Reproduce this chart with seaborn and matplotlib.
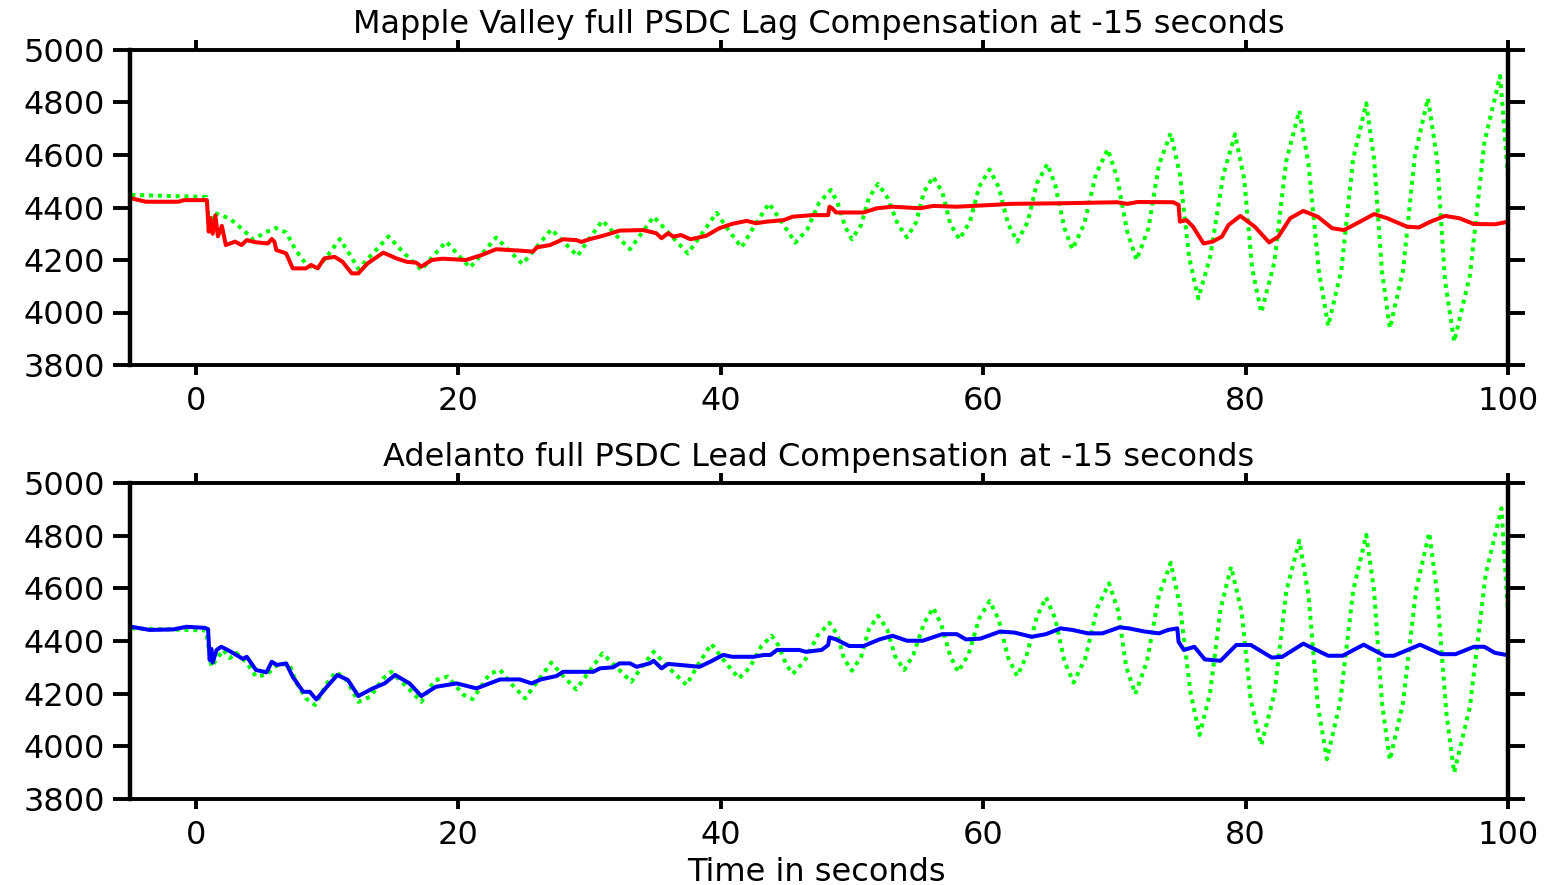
import matplotlib
matplotlib.use('Agg')
import matplotlib.pyplot as plt
import seaborn as sns

# ---- data ----
# top panel: Mapple Valley (red = with lag compensation, green = without)
top_green_t = [-4.9, 0.8, 1.1, 1.4, 2.6, 3.5, 4.4, 5.3, 6.1, 6.9, 7.6, 8.4, 9.2, 10.1, 11.0, 11.7, 12.4,
               13.5, 14.7, 15.9, 17.2, 18.1, 19.1, 20.0, 20.9, 21.9, 22.9, 23.9, 24.9, 26.0, 27.1, 28.1,
               29.1, 30.0, 31.0, 32.0, 33.1, 34.0, 34.9, 36.2, 37.5, 38.6, 39.7, 40.6, 41.6, 42.6, 43.7,
               44.7, 45.7, 46.6, 47.5, 48.4, 48.9, 49.5, 50.0, 50.7, 51.3, 52.0, 52.7, 53.5, 54.2, 54.9,
               55.5, 56.2, 56.9, 57.5, 58.2, 59.0, 59.7, 60.5, 61.2, 61.9, 62.6, 63.4, 64.1, 64.9, 65.5,
               66.2, 66.8, 67.7, 68.6, 69.5, 70.2, 71.0, 71.7, 72.6, 73.4, 74.3, 75.0, 75.7, 76.4, 77.3,
               78.3, 79.2, 79.9, 80.5, 81.2, 82.2, 83.1, 84.1, 84.8, 85.6, 86.3, 87.3, 88.2, 89.2, 89.8,
               90.4, 91.0, 92.0, 92.9, 93.9, 94.6, 95.2, 95.9, 97.1, 98.2, 99.4, 100.0]
top_green_v = [4448, 4440, 4320, 4380, 4358, 4320, 4278, 4305, 4322, 4305, 4240, 4185, 4165, 4220, 4280, 4225, 4166,
               4225, 4290, 4225, 4162, 4215, 4270, 4220, 4171, 4228, 4286, 4235, 4185, 4250, 4317, 4266,
               4215, 4282, 4350, 4296, 4241, 4303, 4365, 4295, 4225, 4302, 4380, 4314, 4248, 4332, 4416,
               4341, 4266, 4316, 4417, 4467, 4420, 4326, 4279, 4332, 4437, 4490, 4439, 4337, 4286, 4344,
               4459, 4517, 4458, 4338, 4279, 4346, 4479, 4545, 4476, 4339, 4270, 4344, 4492, 4566, 4485,
               4322, 4241, 4336, 4527, 4622, 4517, 4306, 4200, 4321, 4562, 4683, 4526, 4211, 4054, 4210,
               4523, 4679, 4509, 4170, 4000, 4192, 4577, 4769, 4564, 4154, 3949, 4161, 4585, 4797, 4583,
               4154, 3940, 4159, 4597, 4816, 4584, 4121, 3889, 4142, 4648, 4901, 4517]

top_red_t = [-4.9, -3.8, -1.3, -0.9, 0.86, 1.0, 1.1, 1.3, 1.5, 1.7, 2.0, 2.3, 3.0, 3.5, 3.9, 4.5, 5.5, 5.8,
             6.0, 6.15, 6.9, 7.4, 8.4, 8.8, 9.3, 9.8, 10.6, 11.2, 11.9, 12.4, 13.1, 14.3, 15.3, 16.1, 16.8,
             17.2, 18.0, 18.8, 20.6, 21.8, 22.9, 24.6, 25.7, 26.0, 27.0, 28.0, 29.0, 29.4, 30.0, 30.8, 31.7,
             32.3, 34.1, 35.1, 35.5, 36.0, 36.4, 37.0, 37.7, 38.9, 39.9, 40.9, 42.0, 42.7, 43.5, 44.8, 45.5,
             47.0, 48.2, 48.3, 48.5, 48.8, 50.9, 51.9, 53.1, 55.2, 56.2, 58.0, 60.8, 62.1, 65.9, 70.2, 71.0,
             71.8, 74.5, 74.9, 75.0, 75.5, 76.0, 76.8, 77.5, 78.2, 78.7, 79.6, 80.7, 81.8, 82.5, 83.4, 84.4,
             85.5, 86.6, 87.5, 88.5, 89.8, 90.8, 92.3, 93.2, 94.1, 95.2, 96.3, 97.4, 99.0, 100.0]
top_red_v = [4435, 4422, 4422, 4428, 4428, 4308, 4360, 4300, 4370, 4290, 4330, 4257, 4270, 4257, 4276, 4268, 4263, 4280,
             4270, 4238, 4225, 4168, 4168, 4181, 4168, 4206, 4212, 4193, 4149, 4149, 4187, 4228, 4206, 4193, 4190,
             4175, 4200, 4205, 4200, 4219, 4241, 4236, 4232, 4248, 4257, 4279, 4276, 4269, 4279, 4289, 4302,
             4312, 4314, 4302, 4283, 4302, 4289, 4295, 4279, 4292, 4321, 4338, 4349, 4340, 4346, 4352, 4365,
             4371, 4371, 4403, 4397, 4381, 4381, 4397, 4403, 4397, 4406, 4403, 4410, 4414, 4416, 4420, 4414,
             4421, 4420, 4410, 4346, 4352, 4327, 4263, 4270, 4289, 4333, 4368, 4327, 4267, 4289, 4359, 4387,
             4365, 4321, 4314, 4340, 4375, 4359, 4327, 4324, 4346, 4368, 4359, 4337, 4336, 4346]

# bottom panel: Adelanto (blue = with lead compensation, green = without)
bot_green_t = [-4.9, 0.8, 1.2, 2.1, 2.6, 3.1, 3.9, 4.6, 5.4, 6.4, 7.2, 7.7, 8.4, 9.1, 10.0, 10.7, 11.5, 12.4,
               13.3, 14.3, 14.9, 16.1, 17.2, 18.2, 19.2, 20.4, 21.1, 22.4, 23.2, 24.1, 25.1, 26.1, 27.1, 28.0,
               29.0, 30.0, 31.0, 32.1, 33.2, 34.0, 34.9, 36.1, 37.4, 38.3, 39.3, 40.3, 41.4, 42.2, 43.1, 43.9,
               44.4, 45.0, 45.5, 46.4, 47.4, 48.3, 48.9, 49.4, 50.0, 50.7, 51.3, 52.0, 52.7, 53.3, 54.0, 54.7,
               55.5, 56.2, 56.8, 57.5, 58.1, 58.9, 59.7, 60.5, 61.2, 61.9, 62.6, 63.3, 64.1, 64.8, 65.5, 66.2,
               66.9, 67.8, 68.7, 69.6, 70.3, 70.9, 71.6, 72.5, 73.4, 74.3, 75.0, 75.8, 76.5, 77.3, 78.1, 78.9,
               79.7, 80.4, 81.2, 82.2, 83.1, 84.1, 84.8, 85.5, 86.2, 87.2, 88.2, 89.2, 89.8, 90.4, 91.0, 92.0,
               93.0, 94.0, 94.6, 95.3, 95.9, 97.1, 98.3, 99.5, 100.0]
bot_green_v = [4448, 4440, 4302, 4366, 4335, 4355, 4317, 4265, 4272, 4317, 4304, 4239, 4182, 4157, 4239, 4283, 4252, 4169,
               4188, 4258, 4283, 4226, 4169, 4250, 4265, 4196, 4179, 4275, 4290, 4235, 4182, 4250, 4318, 4267,
               4216, 4285, 4353, 4299, 4245, 4302, 4359, 4296, 4233, 4311, 4389, 4323, 4258, 4298, 4380, 4420,
               4384, 4311, 4275, 4324, 4421, 4469, 4424, 4333, 4287, 4339, 4444, 4496, 4444, 4342, 4290, 4349,
               4467, 4526, 4465, 4344, 4283, 4350, 4485, 4552, 4481, 4338, 4267, 4342, 4491, 4566, 4485, 4323,
               4242, 4336, 4525, 4619, 4514, 4304, 4199, 4324, 4573, 4697, 4534, 4207, 4043, 4203, 4522, 4682,
               4513, 4174, 4005, 4199, 4587, 4781, 4574, 4159, 3951, 4164, 4590, 4803, 4589, 4162, 3948, 4164,
               4595, 4811, 4583, 4128, 3900, 4151, 4653, 4904, 4505]

bot_blue_t = [-4.9, -3.5, -1.7, -0.7, 0.7, 0.95, 1.07, 1.2, 1.3, 1.6, 1.95, 2.45, 3.1, 3.6, 3.9, 4.6, 5.4, 5.8,
              6.2, 6.9, 7.4, 8.2, 8.7, 9.2, 10.0, 10.8, 11.6, 12.4, 13.5, 14.4, 15.2, 16.3, 17.2, 18.3, 19.9,
              21.4, 23.2, 24.7, 25.6, 26.3, 27.5, 28.0, 30.3, 30.8, 31.8, 32.3, 33.1, 33.6, 34.6, 34.9, 35.5,
              36.0, 36.9, 38.4, 39.2, 40.2, 40.9, 42.5, 43.3, 43.8, 44.3, 46.0, 46.5, 47.7, 48.2, 48.3, 48.8,
              49.8, 50.9, 52.1, 53.1, 54.2, 55.4, 56.9, 58.0, 58.7, 59.8, 61.3, 62.4, 63.7, 64.8, 65.9, 66.8,
              68.0, 69.1, 70.4, 71.1, 72.3, 73.4, 74.1, 74.8, 74.9, 75.3, 76.1, 76.9, 78.1, 79.3, 80.4, 82.0,
              82.8, 84.4, 86.3, 87.4, 89.0, 90.6, 91.3, 93.3, 94.9, 96.0, 97.4, 98.2, 99.0, 100.0]
bot_blue_v = [4454, 4442, 4444, 4454, 4450, 4445, 4328, 4370, 4318, 4366, 4378, 4366, 4347, 4332, 4340, 4290, 4281, 4321,
              4309, 4315, 4264, 4207, 4207, 4178, 4226, 4271, 4252, 4191, 4220, 4239, 4271, 4239, 4191, 4226, 4239,
              4220, 4254, 4254, 4239, 4254, 4267, 4283, 4283, 4296, 4300, 4315, 4315, 4302, 4315, 4325, 4296,
              4313, 4309, 4302, 4321, 4347, 4340, 4340, 4347, 4347, 4366, 4366, 4359, 4366, 4385, 4414, 4406,
              4381, 4381, 4406, 4420, 4401, 4401, 4426, 4426, 4406, 4409, 4436, 4432, 4416, 4426, 4448, 4442,
              4429, 4429, 4452, 4448, 4436, 4429, 4442, 4448, 4397, 4366, 4378, 4330, 4325, 4385, 4385, 4337,
              4340, 4390, 4344, 4344, 4386, 4344, 4344, 4386, 4350, 4350, 4378, 4378, 4355, 4346]

titles = ['Mapple Valley full PSDC Lag Compensation at -15 seconds',
          'Adelanto full PSDC Lead Compensation at -15 seconds']
x_ticks = [0, 20, 40, 60, 80, 100]
y_ticks = [3800, 4000, 4200, 4400, 4600, 4800, 5000]

# ---- style ----
sns.set_style('ticks')
plt.rcParams['font.family'] = ['DejaVu Sans']
plt.rcParams['font.size'] = 23
plt.rcParams['text.color'] = 'black'
plt.rcParams['axes.edgecolor'] = 'black'
plt.rcParams['xtick.color'] = 'black'
plt.rcParams['ytick.color'] = 'black'

fig = plt.figure(figsize=(15.53, 8.85), dpi=100)
ax_top = fig.add_axes([130 / 1553, 1 - 365 / 885, 1378 / 1553, 315 / 885])
ax_bot = fig.add_axes([130 / 1553, 1 - 799 / 885, 1378 / 1553, 316 / 885])

panels = [(ax_top, top_green_t, top_green_v, top_red_t, top_red_v, '#ff0000'),
          (ax_bot, bot_green_t, bot_green_v, bot_blue_t, bot_blue_v, '#0000ff')]

for ax, gt, gv, ct, cv, col in panels:
    sns.lineplot(x=gt, y=gv, ax=ax, color='#00ff00', linewidth=2.9,
                 linestyle=(0, (1.0, 1.2)), sort=False, estimator=None)
    sns.lineplot(x=ct, y=cv, ax=ax, color=col, linewidth=2.9, sort=False, estimator=None)
    ax.set_xlim(-5, 100)
    ax.set_ylim(3800, 5000)
    ax.set_xticks(x_ticks)
    ax.set_yticks(y_ticks)
    ax.set_xlabel('')
    ax.set_ylabel('')
    for side in ['top', 'bottom']:
        ax.spines[side].set_linewidth(2.8)
    for side in ['left', 'right']:
        ax.spines[side].set_linewidth(3.2)
    ax.tick_params(axis='x', which='both', top=True, bottom=True, direction='out',
                   length=7, width=2.8, pad=8, labelsize=23, labelcolor='black')
    ax.tick_params(axis='y', which='both', left=True, right=True, direction='out',
                   length=12, width=2.8, pad=6, labelsize=23, labelcolor='black')
    ax.set_facecolor('white')

fig.text(819 / 1553, 1 - 33 / 885, titles[0], ha='center', va='baseline', fontsize=23)
fig.text(819 / 1553, 1 - 466 / 885, titles[1], ha='center', va='baseline', fontsize=23)
fig.text(816 / 1553, 1 - 881 / 885, 'Time in seconds', ha='center', va='baseline', fontsize=23)

fig.savefig('out.png', dpi=100, facecolor='white')
